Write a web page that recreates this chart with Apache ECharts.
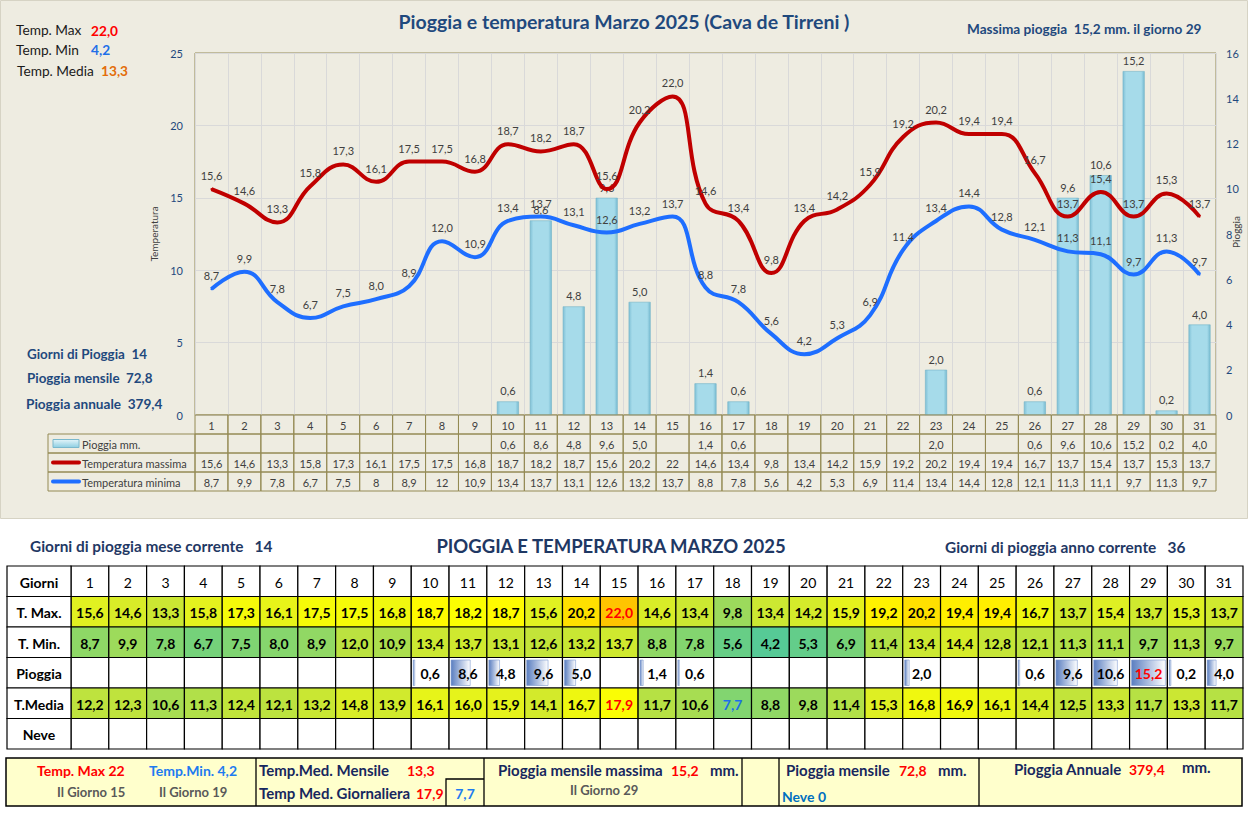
<!DOCTYPE html>
<html><head><meta charset="utf-8">
<script src="https://cdn.jsdelivr.net/npm/echarts@6/dist/echarts.min.js"></script>
<style>html,body{margin:0;padding:0;background:#fff;}#c{width:1248px;height:813px;}</style>
</head><body><div id="c"></div>
<script>
// ---------------- DATA ----------------
const days = ['1','2','3','4','5','6','7','8','9','10','11','12','13','14','15','16','17','18','19','20','21','22','23','24','25','26','27','28','29','30','31'];
const rain = [null,null,null,null,null,null,null,null,null,0.6,8.6,4.8,9.6,5.0,null,1.4,0.6,null,null,null,null,null,2.0,null,null,0.6,9.6,10.6,15.2,0.2,4.0];
const tMax = [15.6,14.6,13.3,15.8,17.3,16.1,17.5,17.5,16.8,18.7,18.2,18.7,15.6,20.2,22.0,14.6,13.4,9.8,13.4,14.2,15.9,19.2,20.2,19.4,19.4,16.7,13.7,15.4,13.7,15.3,13.7];
const tMin = [8.7,9.9,7.8,6.7,7.5,8.0,8.9,12.0,10.9,13.4,13.7,13.1,12.6,13.2,13.7,8.8,7.8,5.6,4.2,5.3,6.9,11.4,13.4,14.4,12.8,12.1,11.3,11.1,9.7,11.3,9.7];
const tMedia = [12.2,12.3,10.6,11.3,12.4,12.1,13.2,14.8,13.9,16.1,16.0,15.9,14.1,16.7,17.9,11.7,10.6,7.7,8.8,9.8,11.4,15.3,16.8,16.9,16.1,14.4,12.5,13.3,11.7,13.3,11.7];
const legendNames = ['Pioggia mm.','Temperatura massima','Temperatura minima'];
const tableRows = ['Giorni','T. Max.','T. Min.','Pioggia','T.Media','Neve'];
const tempTicks = {min:0, max:25, interval:5};
const rainTicks = {min:0, max:16, interval:2};
// summary values
const tMaxAbs = 22.0, tMaxDay = 15, tMinAbs = 4.2, tMinDay = 19;
const tMediaMonth = 13.3, tMediaDayHi = 17.9, tMediaDayLo = 7.7;
const rainMaxVal = 15.2, rainMaxDay = 29, rainDaysMonth = 14, rainMonth = 72.8, rainYear = 379.4, rainDaysYear = 36, snow = 0;

// ---------------- HELPERS ----------------
const fmt1 = v => v.toFixed(1).replace('.', ',');
const fmtG = v => String(v).replace('.', ',');
const FF = 'Lato, "Open Sans", sans-serif';
const NAVY = '#1F3864', BLUE1 = '#1F497D';

const stops = [[4.2,[86,202,150]],[6.5,[114,209,124]],[8.5,[140,215,104]],[10,[158,219,90]],[12.5,[194,228,58]],[14,[210,234,44]],[15.5,[224,240,34]],[17,[242,249,12]],[18.5,[255,255,0]],[20.2,[255,224,0]],[22,[255,196,0]]];
function tempColor(v){
  if (v <= stops[0][0]) return 'rgb('+stops[0][1].join(',')+')';
  for (let i=1;i<stops.length;i++){
    if (v <= stops[i][0]){
      const a=stops[i-1], b=stops[i], t=(v-a[0])/(b[0]-a[0]);
      const c=a[1].map((x,k)=>Math.round(x+(b[1][k]-x)*t));
      return 'rgb('+c.join(',')+')';
    }
  }
  return 'rgb('+stops[stops.length-1][1].join(',')+')';
}
function txt(x,y,text,fill,font,align){
  return {type:'text', x:x, y:y, z:10, style:{text:text, fill:fill, font:font, textAlign:align||'left', align:align||'left', textVerticalAlign:'middle', verticalAlign:'middle'}};
}

// ---------------- TOP DATA TABLE CELLS ----------------
const topCells = [];
for (let d=0; d<31; d++){
  topCells.push({v:[d,0], t:days[d]});
  topCells.push({v:[d,1], t: rain[d]==null ? '' : fmt1(rain[d])});
  topCells.push({v:[d,2], t: fmtG(tMax[d])});
  topCells.push({v:[d,3], t: fmtG(tMin[d])});
}
// ---------------- BOTTOM TABLE CELLS ----------------
const botCells = [];
for (let d=0; d<31; d++){
  botCells.push({v:[d,0], t:days[d], fill:'#fff', color:'#000', bold:false});
  botCells.push({v:[d,1], t:fmt1(tMax[d]), fill:tempColor(tMax[d]), color: tMax[d]===tMaxAbs?'#FF0000':'#000', bold:true});
  botCells.push({v:[d,2], t:fmt1(tMin[d]), fill:tempColor(tMin[d]), color:'#000', bold:true});
  botCells.push({v:[d,3], t: rain[d]==null?'':fmt1(rain[d]), fill:'#fff', color: rain[d]===rainMaxVal?'#FF0000':'#000', bold:true, bar: rain[d]==null?0:rain[d]/rainMaxVal});
  botCells.push({v:[d,4], t:fmt1(tMedia[d]), fill:tempColor(tMedia[d]), color: tMedia[d]===tMediaDayHi?'#FF0000':(tMedia[d]===tMediaDayLo?'#1E6FE8':'#000'), bold:true});
  botCells.push({v:[d,5], t:'', fill:'#fff', color:'#000', bold:true});
}

function topCellRender(params, api){
  const cell = topCells[params.dataIndex];
  const c = api.coord([api.value(0), api.value(1)]);
  const s = api.size([1,1]);
  return {type:'group', children:[
    {type:'rect', shape:{x:c[0]-s[0]/2, y:c[1]-s[1]/2, width:s[0], height:s[1]}, style:{fill:'none', stroke:'#948A54', lineWidth:1}},
    {type:'text', style:{text:cell.t, x:c[0], y:c[1]+1, textAlign:'center', align:'center', textVerticalAlign:'middle', verticalAlign:'middle', fill:'#404040', font:'11px '+FF}}
  ]};
}
function topLegendRender(params, api){
  const row = api.value(1);
  const c = api.coord([0, row]);
  const s = api.size([1,1]);
  const right = c[0]-s[0]/2, left = right - 147, top = c[1]-s[1]/2, h = s[1];
  let icon;
  if (row === 1){
    icon = {type:'rect', shape:{x:left+5, y:c[1]-4, width:26, height:8}, style:{fill:new echarts.graphic.LinearGradient(0,0,0,1,[{offset:0,color:'#E3F4F9'},{offset:1,color:'#8ECFE2'}]), stroke:'#7AB8CC', lineWidth:1}};
  } else {
    icon = {type:'line', shape:{x1:left+5, y1:c[1], x2:left+31, y2:c[1]}, style:{stroke: row===2?'#C00000':'#1E6EFF', lineWidth:4, lineCap:'round'}};
  }
  return {type:'group', children:[
    {type:'rect', shape:{x:left, y:top, width:147, height:h}, style:{fill:'none', stroke:'#948A54', lineWidth:1}},
    icon,
    {type:'text', style:{text:legendNames[row-1], x:left+34, y:c[1]+1, textAlign:'left', align:'left', textVerticalAlign:'middle', verticalAlign:'middle', fill:'#404040', font:'11px '+FF}}
  ]};
}
function botCellRender(params, api){
  const cell = botCells[params.dataIndex];
  const c = api.coord([api.value(0), api.value(1)]);
  const s = api.size([1,1]);
  const x = c[0]-s[0]/2, y = c[1]-s[1]/2, w = s[0], h = s[1];
  const ch = [{type:'rect', shape:{x:x, y:y, width:w, height:h}, style:{fill:cell.fill, stroke:'#000', lineWidth:1.2}}];
  if (cell.bar){
    const bw = Math.max(1.5, (w-4)*cell.bar);
    ch.push({type:'rect', shape:{x:x+2, y:y+2.5, width:bw, height:h-5}, style:{fill:new echarts.graphic.LinearGradient(0,0,1,0,[{offset:0,color:'#5A7EC0'},{offset:1,color:'#FFFFFF'}]), stroke:'#7D9BD0', lineWidth:0.6}});
  }
  ch.push({type:'text', style:{text:cell.t, x:c[0], y:c[1]+1, textAlign:'center', align:'center', textVerticalAlign:'middle', verticalAlign:'middle', fill:cell.color, font:(cell.bold?'bold ':'')+'14px '+FF}});
  return {type:'group', children:ch};
}
function botLabelRender(params, api){
  const row = api.value(1);
  const c = api.coord([0, row]);
  const s = api.size([1,1]);
  const right = c[0]-s[0]/2, left = right-64, top = c[1]-s[1]/2;
  return {type:'group', children:[
    {type:'rect', shape:{x:left, y:top, width:64, height:s[1]}, style:{fill:'#fff', stroke:'#000', lineWidth:1.2}},
    {type:'text', style:{text:tableRows[row], x:left+32, y:c[1]+1, textAlign:'center', align:'center', textVerticalAlign:'middle', verticalAlign:'middle', fill:'#000', font:'bold 14px '+FF}}
  ]};
}

// ---------------- GRAPHIC (text blocks, background, footer) ----------------
const g = [];
g.push({type:'rect', z:-10, shape:{x:0.5, y:0.5, width:1247, height:518}, style:{fill:'#EEECE1', stroke:'#D6D3C4', lineWidth:1}});
g.push(txt(624, 21, 'Pioggia e temperatura Marzo 2025 (Cava de Tirreni )', BLUE1, 'bold 19.5px '+FF, 'center'));
g.push(txt(967, 29, 'Massima pioggia  ' + fmt1(rainMaxVal) + ' mm. il giorno ' + rainMaxDay, BLUE1, 'bold 13.6px '+FF));
g.push(txt(16, 29, 'Temp. Max', '#1a1a1a', '13.7px '+FF));
g.push(txt(91, 30, fmt1(tMaxAbs), '#FF0000', 'bold 13.7px '+FF));
g.push(txt(16, 49, 'Temp. Min', '#1a1a1a', '13.7px '+FF));
g.push(txt(91, 49, fmt1(tMinAbs), '#1F6FE8', 'bold 13.7px '+FF));
g.push(txt(17, 70, 'Temp. Media', '#1a1a1a', '13.7px '+FF));
g.push(txt(101, 70, fmt1(tMediaMonth), '#E36C09', 'bold 13.7px '+FF));
g.push(txt(27, 354, 'Giorni di Pioggia  ' + rainDaysMonth, BLUE1, 'bold 13.4px '+FF));
g.push(txt(27, 378, 'Pioggia mensile  ' + fmt1(rainMonth), BLUE1, 'bold 13.4px '+FF));
g.push(txt(26, 404, 'Pioggia annuale  ' + fmt1(rainYear), BLUE1, 'bold 13.6px '+FF));
// right axis title (rotated)
g.push({type:'text', x:1236, y:232, rotation:Math.PI/2, z:10, style:{text:'Pioggia', fill:'#404040', font:'10px '+FF, textAlign:'center', align:'center', textVerticalAlign:'middle', verticalAlign:'middle'}});
// bottom headings
g.push(txt(30, 546, 'Giorni di pioggia mese corrente   ' + rainDaysMonth, NAVY, 'bold 15.4px '+FF));
g.push(txt(611, 546, 'PIOGGIA E TEMPERATURA MARZO 2025', NAVY, 'bold 18.5px '+FF, 'center'));
g.push(txt(945, 547, 'Giorni di pioggia anno corrente   ' + rainDaysYear, NAVY, 'bold 15.4px '+FF));
// footer box
g.push({type:'rect', z:5, shape:{x:6, y:758, width:1236, height:48}, style:{fill:'#FFFFCC', stroke:'#000', lineWidth:1.5}});
[256,484,742,779,979].forEach(x => g.push({type:'line', z:6, shape:{x1:x, y1:758, x2:x, y2:806}, style:{stroke:'#000', lineWidth:1.3}}));
g.push({type:'polyline', z:6, shape:{points:[[446,806],[446,779],[484,779]]}, style:{stroke:'#000', lineWidth:1.3, fill:'none'}});
const FL = 'bold 15px '+FF, FV = 'bold 14px '+FF, FG = 'bold 13px '+FF, NV = '#17275E';
g.push(txt(37, 770, 'Temp. Max ' + fmtG(tMaxAbs), '#FF0000', FV));
g.push(txt(149, 770, 'Temp.Min. ' + fmt1(tMinAbs), '#1E7BF0', FV));
g.push(txt(57, 792, 'Il Giorno ' + tMaxDay, '#595959', FG));
g.push(txt(159, 792, 'Il Giorno ' + tMinDay, '#595959', FG));
g.push(txt(259, 770, 'Temp.Med. Mensile', NV, FL));
g.push(txt(407, 770, fmt1(tMediaMonth), '#FF0000', FV));
g.push(txt(259, 793, 'Temp Med. Giornaliera', NV, FL));
g.push(txt(416, 793, fmt1(tMediaDayHi), '#FF0000', FV));
g.push(txt(465, 793, fmt1(tMediaDayLo), '#1E7BF0', FV, 'center'));
g.push(txt(498, 770, 'Pioggia mensile massima', NV, FL));
g.push(txt(671, 770, fmt1(rainMaxVal), '#FF0000', FV));
g.push(txt(710, 770, 'mm.', NV, FL));
g.push(txt(570, 790, 'Il Giorno ' + rainMaxDay, '#595959', FG));
g.push(txt(786, 770, 'Pioggia mensile', NV, FL));
g.push(txt(899, 770, fmt1(rainMonth), '#FF0000', FV));
g.push(txt(938, 770, 'mm.', NV, FL));
g.push(txt(782, 796, 'Neve ' + snow, '#0070C0', FV));
g.push(txt(1014, 769, 'Pioggia Annuale', NV, FL));
g.push(txt(1129, 769, fmt1(rainYear), '#FF0000', FV));
g.push(txt(1182, 767, 'mm.', NV, FL));

// ---------------- CHART ----------------
const chart = echarts.init(document.getElementById('c'), null, {renderer:'svg', width:1248, height:813});
const labelStyle = {show:true, position:'top', distance:6, color:'#404040', fontSize:11, fontFamily:FF};
chart.setOption({
  animation:false,
  backgroundColor:'transparent',
  textStyle:{fontFamily:FF},
  graphic: g,
  grid:[
    {left:195, top:53, width:1021, height:362, show:true, borderColor:'#948A54', borderWidth:1, backgroundColor:'transparent', containLabel:false, outerBoundsMode:'none'},
    {left:195, top:415, width:1021, height:76, containLabel:false, outerBoundsMode:'none'},
    {left:71, top:566, width:1172, height:183, containLabel:false, outerBoundsMode:'none'}
  ],
  xAxis:[
    {gridIndex:0, type:'category', data:days, boundaryGap:true, axisLine:{show:false}, axisTick:{show:false}, axisLabel:{show:false}, splitLine:{show:true, interval:0, lineStyle:{color:'#D9D9D9'}}},
    {gridIndex:1, type:'category', data:days, show:false},
    {gridIndex:2, type:'category', data:days, show:false}
  ],
  yAxis:[
    {gridIndex:0, type:'value', min:tempTicks.min, max:tempTicks.max, interval:tempTicks.interval, position:'left',
     name:'Temperatura', nameLocation:'middle', nameGap:36, nameRotate:90, nameTextStyle:{color:'#404040', fontSize:10},
     axisLine:{show:false}, axisTick:{show:false}, axisLabel:{color:BLUE1, fontSize:11, margin:12},
     splitLine:{show:true, lineStyle:{color:'#D9D9D9'}}},
    {gridIndex:0, type:'value', min:rainTicks.min, max:rainTicks.max, interval:rainTicks.interval, position:'right',
     axisLine:{show:false}, axisTick:{show:false}, axisLabel:{color:BLUE1, fontSize:11, margin:10}, splitLine:{show:false}},
    {gridIndex:1, type:'category', data:['g','p','max','min'], inverse:true, show:false},
    {gridIndex:2, type:'category', data:tableRows, inverse:true, show:false}
  ],
  series:[
    {type:'bar', name:legendNames[0], xAxisIndex:0, yAxisIndex:1, data:rain, barWidth:22, z:2,
     itemStyle:{color:new echarts.graphic.LinearGradient(0,0,1,0,[{offset:0,color:'#7FC0D6'},{offset:0.15,color:'#A6DBEA'},{offset:0.85,color:'#A6DBEA'},{offset:1,color:'#78BBD1'}]), borderColor:'#74B3C8', borderWidth:0.6},
     label:Object.assign({}, labelStyle, {distance:5, formatter:p => p.value==null?'':fmt1(p.value)})},
    {type:'line', name:legendNames[1], xAxisIndex:0, yAxisIndex:0, data:tMax, smooth:0.45, showSymbol:true, symbol:'circle', symbolSize:2, z:4,
     lineStyle:{color:'#C00000', width:4}, itemStyle:{color:'#C00000'},
     label:Object.assign({}, labelStyle, {distance:7, formatter:p => fmt1(p.value)})},
    {type:'line', name:legendNames[2], xAxisIndex:0, yAxisIndex:0, data:tMin, smooth:0.45, showSymbol:true, symbol:'circle', symbolSize:2, z:4,
     lineStyle:{color:'#1E6EFF', width:4}, itemStyle:{color:'#1E6EFF'},
     label:Object.assign({}, labelStyle, {distance:7, formatter:p => fmt1(p.value)})},
    {type:'custom', xAxisIndex:1, yAxisIndex:2, data:topCells.map(c=>c.v), renderItem:topCellRender, z:3},
    {type:'custom', xAxisIndex:1, yAxisIndex:2, data:[[0,1],[0,2],[0,3]], renderItem:topLegendRender, z:3},
    {type:'custom', xAxisIndex:2, yAxisIndex:3, data:botCells.map(c=>c.v), renderItem:botCellRender, z:3},
    {type:'custom', xAxisIndex:2, yAxisIndex:3, data:tableRows.map((r,i)=>[0,i]), renderItem:botLabelRender, z:3}
  ]
});
</script></body></html>
